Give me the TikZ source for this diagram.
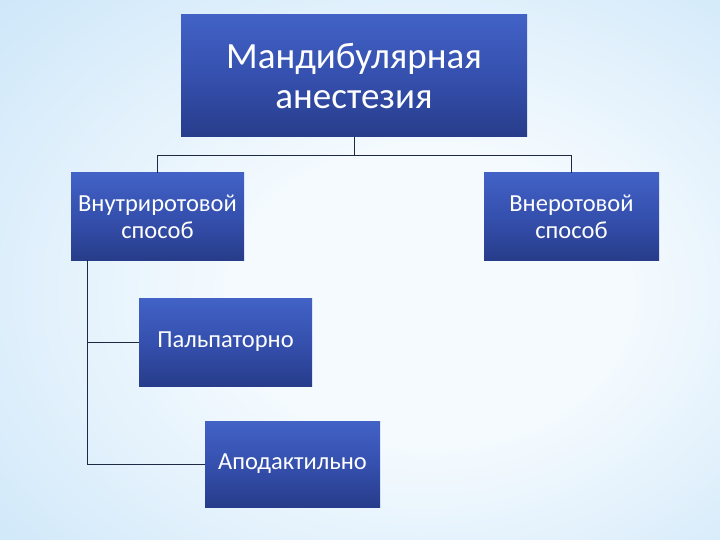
\documentclass[tikz,border=0pt]{standalone}
\usepackage{fontspec}
\setmainfont{Carlito}
\usetikzlibrary{positioning}
\definecolor{bgin}{HTML}{F4FAFE}
\definecolor{bgout}{HTML}{9ACDF3}
\definecolor{boxtop}{HTML}{4262C6}
\definecolor{boxmid}{HTML}{3550AE}
\definecolor{boxbot}{HTML}{273C8A}
\definecolor{linecol}{HTML}{1E2A44}
\pgfdeclareradialshading{slidebg}{\pgfpoint{6bp}{-3bp}}{color(0bp)=(bgin); color(14bp)=(bgin); color(72bp)=(bgout)}

\begin{document}
\begin{tikzpicture}[x=1pt,y=-1pt,
    box/.style={rectangle, top color=boxtop, bottom color=boxbot, middle color=boxmid,
        text=white, align=center, inner sep=0pt, font=\fontsize{24.5}{27}\selectfont},
    link/.style={draw=linecol, line width=0.8pt}]
        \shade[shading=slidebg] (0,0) rectangle (720,540);
        \useasboundingbox (0,0) rectangle (720,540);

        \node[box, minimum width=346, minimum height=122, font=\fontsize{37}{40}\selectfont]
            (anest) at (354,76) {Мандибулярная\\анестезия};
        \node[box, minimum width=173, minimum height=87] (vnutr) at (157.5,216.5) {Внутриротовой\\способ};
        \node[box, minimum width=175, minimum height=87] (vner) at (571.5,216.5) {Внеротовой\\способ};
        \node[box, minimum width=173, minimum height=88] (palp) at (225.5,342) {Пальпаторно};
        \node[box, minimum width=175, minimum height=86] (apod) at (292.5,464) {Аподактильно};

        \coordinate (razv) at ([yshift=-18pt]anest.south);
        \draw[link] (anest.south) -- (razv) -| (vnutr.north);
        \draw[link] (razv) -| (vner.north);
        \draw[link] ([xshift=17pt]vnutr.south west) |- (palp.west);
        \draw[link] ([xshift=17pt]vnutr.south west) |- (apod.west);
\end{tikzpicture}
\end{document}
